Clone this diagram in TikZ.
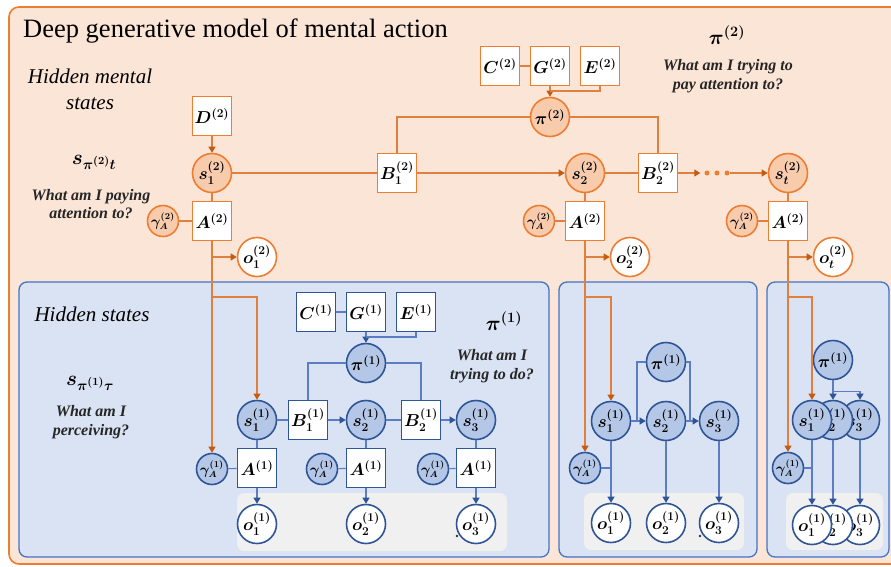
\documentclass[tikz,border=0pt]{standalone}
\usepackage{amsmath}
\usepackage{fontspec}
\setmainfont{Liberation Serif}
\usetikzlibrary{arrows.meta}
\definecolor{obg}{HTML}{FBE5D6}
\definecolor{oborder}{HTML}{ED7D31}
\definecolor{ofill}{HTML}{F8CBAD}
\definecolor{olinec}{HTML}{E0803F}
\definecolor{oarr}{HTML}{C55A11}
\definecolor{bbg}{HTML}{DAE3F3}
\definecolor{bpanel}{HTML}{4472C4}
\definecolor{bfill}{HTML}{B4C7E7}
\definecolor{bborder}{HTML}{2F5597}
\definecolor{blinec}{HTML}{5B7DC2}
\definecolor{graybg}{HTML}{F0F0F0}
\tikzset{
  labelfont/.style={font=\fontsize{18}{20}\selectfont\boldmath},
  gamfont/.style={font=\fontsize{13.5}{15}\selectfont\boldmath},
  obox/.style={draw=oborder, fill=white, line width=1.6pt, minimum size=39pt, inner sep=0pt, labelfont},
  ocirc/.style={circle, draw=oborder, fill=ofill, line width=1.6pt, minimum size=39pt, inner sep=0pt, labelfont},
  ogam/.style={ocirc, minimum size=31pt, gamfont},
  oobs/.style={ocirc, fill=white},
  odot/.style={circle, fill=oborder, inner sep=0pt, minimum size=5pt},
  bbox/.style={draw=bborder, fill=white, line width=1.6pt, minimum size=39pt, inner sep=0pt, labelfont},
  bcirc/.style={circle, draw=bborder, fill=bfill, line width=1.6pt, minimum size=39pt, inner sep=0pt, labelfont},
  bgam/.style={bcirc, minimum size=31pt, gamfont},
  bobs/.style={bcirc, fill=white},
  pdot/.style={circle, fill=black!80, inner sep=0pt, minimum size=2.6pt},
  ocon/.style={draw=olinec, line width=1.1pt},
  oarrow/.style={ocon, -{Triangle[length=6pt,width=7pt,color=oarr]}},
  bcon/.style={draw=blinec, line width=1.1pt},
  barrow/.style={bcon, -{Triangle[length=6pt,width=7pt,color=bborder]}},
  hfont/.style={font=\fontsize{21}{26}\selectfont\itshape, align=center, inner sep=0pt},
  qfont/.style={font=\fontsize{16}{18.5}\selectfont\bfseries\itshape, align=center, inner sep=0pt, text=black!85},
  sfont/.style={font=\fontsize{22}{24}\selectfont\boldmath, inner sep=0pt},
  pfont/.style={font=\fontsize{20}{22}\selectfont\boldmath, inner sep=0pt},
}
\begin{document}
\begin{tikzpicture}[x=1pt,y=-1pt]
\useasboundingbox (0,0) rectangle (891,566);
% backgrounds
\draw[draw=oborder, fill=obg, line width=1.6pt, rounded corners=10pt] (9,7) rectangle (910,564);
\draw[draw=bpanel, fill=bbg, line width=1.3pt, rounded corners=8pt] (19,282) rectangle (549,557);
\draw[draw=bpanel, fill=bbg, line width=1.3pt, rounded corners=8pt] (559,282) rectangle (757,557);
\draw[draw=bpanel, fill=bbg, line width=1.3pt, rounded corners=8pt] (767,282) rectangle (889,557);
\fill[graybg, rounded corners=7pt] (237,493) rectangle (507,551);
\fill[graybg, rounded corners=7pt] (584,493) rectangle (744,550);
\fill[graybg, rounded corners=7pt] (786,493) rectangle (883,550);

% title and texts
\node[anchor=base west, font=\fontsize{26.5}{30}\selectfont, inner sep=0pt] (title) at (23,37) {Deep generative model of mental action};
\node[hfont] (hms) at (90,89) {Hidden mental\\states};
\node[sfont] (sl2) at (94,162) {$\boldsymbol{s}_{\pi^{(2)}t}$};
\node[qfont] (q2) at (91,204) {What am I paying\\attention to?};
\node[pfont] (pl2) at (727,35) {$\boldsymbol{\pi}^{(2)}$};
\node[qfont] (q2b) at (728,76) {What am I trying to\\pay attention to?};
\node[hfont] (hs) at (92,314) {Hidden states};
\node[sfont] (sl1) at (90,383) {$\boldsymbol{s}_{\pi^{(1)}\tau}$};
\node[qfont] (q1) at (91,422) {What am I\\perceiving?};
\node[pfont] (pl1) at (504,321) {$\boldsymbol{\pi}^{(1)}$};
\node[qfont] (q1b) at (492,366) {What am I\\trying to do?};

% ---- level 2 nodes
\node[obox] (D2) at (212,116) {$D^{(2)}$};
\node[ocirc] (s12) at (212,173) {$s_1^{(2)}$};
\node[obox] (A2a) at (212,221) {$A^{(2)}$};
\node[ogam] (g2a) at (163,221) {$\gamma_A^{(2)}$};
\node[oobs] (o12) at (257,257) {$o_1^{(2)}$};
\node[obox] (B12) at (397,173) {$B_1^{(2)}$};
\node[obox] (C2) at (500,66) {$C^{(2)}$};
\node[obox] (G2) at (550,66) {$G^{(2)}$};
\node[obox] (E2) at (600,66) {$E^{(2)}$};
\node[ocirc] (pi2) at (550,117) {$\pi^{(2)}$};
\node[ocirc] (s22) at (585,173) {$s_2^{(2)}$};
\node[obox] (A2b) at (585,221) {$A^{(2)}$};
\node[ogam] (g2b) at (539,221) {$\gamma_A^{(2)}$};
\node[oobs] (o22) at (630,257) {$o_2^{(2)}$};
\node[obox] (B22) at (658,173) {$B_2^{(2)}$};
\node[odot] (d1) at (707,173) {};
\node[odot] (d2) at (717,173) {};
\node[odot] (d3) at (727,173) {};
\node[ocirc] (st2) at (788,173) {$s_t^{(2)}$};
\node[obox] (A2c) at (788,221) {$A^{(2)}$};
\node[ogam] (g2c) at (742,221) {$\gamma_A^{(2)}$};
\node[oobs] (ot2) at (833,257) {$o_t^{(2)}$};

% ---- panel 1 nodes
\node[bbox] (C1) at (316,312) {$C^{(1)}$};
\node[bbox] (G1) at (366,312) {$G^{(1)}$};
\node[bbox] (E1) at (416,312) {$E^{(1)}$};
\node[bcirc] (pi1) at (366,363) {$\pi^{(1)}$};
\node[bcirc] (s11) at (257,420) {$s_1^{(1)}$};
\node[bbox] (B11) at (308,420) {$B_1^{(1)}$};
\node[bcirc] (s21) at (366,420) {$s_2^{(1)}$};
\node[bbox] (B21) at (421,420) {$B_2^{(1)}$};
\node[bcirc] (s31) at (476,420) {$s_3^{(1)}$};
\node[bbox] (A1a) at (257,468) {$A^{(1)}$};
\node[bgam] (g1a) at (212,469) {$\gamma_A^{(1)}$};
\node[bobs] (o11) at (257,524) {$o_1^{(1)}$};
\node[bbox] (A1b) at (366,468) {$A^{(1)}$};
\node[bgam] (g1b) at (322,469) {$\gamma_A^{(1)}$};
\node[bobs] (o21) at (366,524) {$o_2^{(1)}$};
\node[bbox] (A1c) at (476,468) {$A^{(1)}$};
\node[bgam] (g1c) at (433,469) {$\gamma_A^{(1)}$};
\node[bobs] (o31) at (476,524) {$o_3^{(1)}$};
\node[pdot] (p1) at (457,536) {};

% ---- panel 2 nodes
\node[bcirc] (pib) at (666,362) {$\pi^{(1)}$};
\node[bcirc] (s1b) at (611,421) {$s_1^{(1)}$};
\node[bcirc] (s2b) at (666,421) {$s_2^{(1)}$};
\node[bcirc] (s3b) at (719,421) {$s_3^{(1)}$};
\node[bgam] (gb) at (585,468) {$\gamma_A^{(1)}$};
\node[bobs] (o1b) at (611,523) {$o_1^{(1)}$};
\node[bobs] (o2b) at (666,523) {$o_2^{(1)}$};
\node[bobs] (o3b) at (719,523) {$o_3^{(1)}$};
\node[pdot] (p2) at (700,536) {};
\coordinate (j1) at (637,421);
\coordinate (j2) at (690,421);

% ---- panel 3 nodes
\node[bcirc] (pic) at (833,360) {$\pi^{(1)}$};
\node[bcirc] (s3c) at (860,420) {$s_3^{(1)}$};
\node[bcirc] (s2c) at (833,420) {$s_2^{(1)}$};
\node[bcirc] (s1c) at (812,420) {$s_1^{(1)}$};
\node[bgam] (gc) at (788,468) {$\gamma_A^{(1)}$};
\node[bobs] (o3c) at (860,525) {$o_3^{(1)}$};
\node[bobs] (o2c) at (833,525) {$o_2^{(1)}$};
\node[bobs] (o1c) at (812,525) {$o_1^{(1)}$};

% ---- level 2 connectors
\draw[oarrow] (D2) -- (s12);
\draw[ocon] (s12) -- (A2a);
\draw[ocon] (g2a) -- (A2a);
\draw[ocon] (s12) -- (B12);
\draw[oarrow] (B12) -- (s22);
\draw[ocon] (pi2.west) -| (B12.north);
\draw[ocon] (pi2.east) -| (B22.north);
\draw[ocon] (C2) -- (G2);
\draw[oarrow] (G2) -- (pi2);
\draw[ocon] (E2.south) |- (G2.south |- 0,91);
\draw[ocon] (s22) -- (B22);
\draw[oarrow, shorten >=4pt] (B22) -- (d1);
\draw[oarrow] (d3) -- (st2);
\draw[ocon] (s22) -- (A2b);
\draw[ocon] (g2b) -- (A2b);
\draw[ocon] (st2) -- (A2c);
\draw[ocon] (g2c) -- (A2c);
% descending lines
\draw[oarrow] (A2a.south) -- (g1a.north);
\draw[oarrow] (A2a.south |- o12.west) -- (o12.west);
\draw[oarrow] (A2a.south |- 0,297) -| (s11.north);
\draw[oarrow] (A2b.south) -- (gb.north);
\draw[oarrow] (A2b.south |- o22.west) -- (o22.west);
\draw[oarrow] (A2b.south |- 0,297) -| (s1b.north);
\draw[oarrow] (A2c.south) -- (gc.north);
\draw[oarrow] (A2c.south |- ot2.west) -- (ot2.west);
\draw[oarrow] (A2c.south |- 0,297) -| (s1c.north);

% ---- panel 1 connectors
\draw[bcon] (C1) -- (G1);
\draw[barrow] (G1) -- (pi1);
\draw[bcon] (E1.south) |- (G1.south |- 0,337);
\draw[bcon] (pi1.west) -| (B11.north);
\draw[bcon] (pi1.east) -| (B21.north);
\draw[bcon] (s11) -- (B11);
\draw[barrow] (B11) -- (s21);
\draw[bcon] (s21) -- (B21);
\draw[barrow] (B21) -- (s31);
\draw[bcon] (s11) -- (A1a);
\draw[bcon] (s21) -- (A1b);
\draw[bcon] (s31) -- (A1c);
\draw[bcon] (g1a) -- (A1a);
\draw[bcon] (g1b) -- (A1b);
\draw[bcon] (g1c) -- (A1c);
\draw[barrow] (A1a) -- (o11);
\draw[barrow] (A1b) -- (o21);
\draw[barrow] (A1c) -- (o31);

% ---- panel 2 connectors
\draw[barrow] (s1b) -- (s2b);
\draw[barrow] (s2b) -- (s3b);
\draw[bcon] (pib.west) -| (j1);
\draw[bcon] (pib.east) -| (j2);
\draw[barrow] (s1b) -- (o1b);
\draw[barrow] (s2b) -- (o2b);
\draw[barrow] (s3b) -- (o3b);
\draw[bcon] (gb.east) -- (s1b.south |- gb.east);

% ---- panel 3 connectors
\draw[barrow] (pic.south) -- (s2c.north);
\draw[barrow] (pic.south) ++(0,11) -| (s3c.north);
\draw[barrow] (s1c.south) -- (o1c.north);
\draw[barrow] (s2c.south) -- (o2c.north);
\draw[barrow] (s3c.south) -- (o3c.north);
\draw[bcon] (gc.east) -- (s1c.south |- gc.east);
\end{tikzpicture}
\end{document}
